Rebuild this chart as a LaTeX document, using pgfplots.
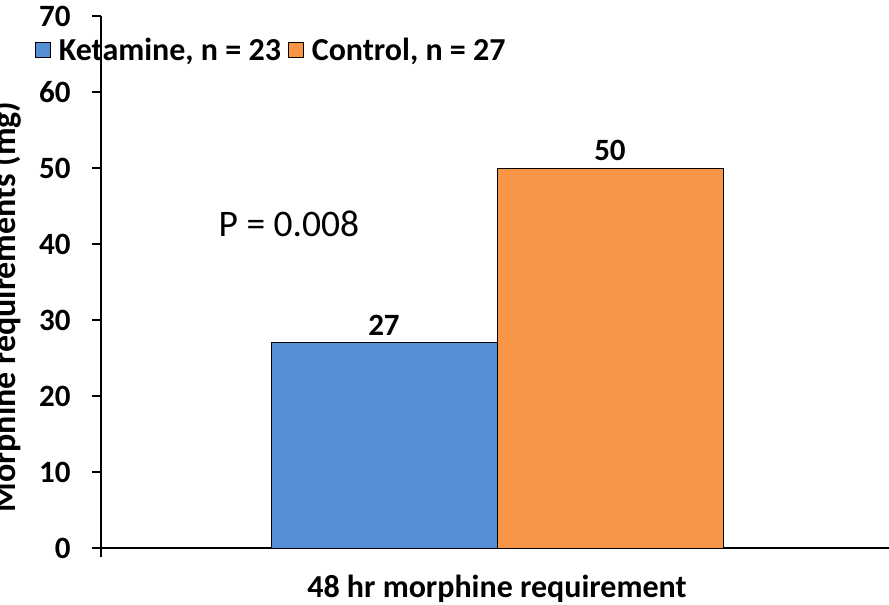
\documentclass[border=0pt]{standalone}
\usepackage{fontspec}
\setmainfont{Carlito}
\usepackage{pgfplots}
\pgfplotsset{compat=1.18}
\definecolor{barblue}{HTML}{558ED5}
\definecolor{barorange}{HTML}{F79646}
\begin{document}
\begin{tikzpicture}
\begin{axis}[
  scale only axis,
  width=788bp, height=532bp,
  ybar=0pt, bar width=226bp,
  xmin=-1.005, xmax=0.995,
  ymin=0, ymax=70,
  ytick={0,10,...,70},
  xtick=\empty,
  axis x line=bottom, axis y line=left,
  axis line style={-, line width=1.2bp, black},
  every tick/.style={black, line width=1.2bp},
  ytick align=outside, major tick length=9bp,
  /pgf/number format/assume math mode=true,
  yticklabel style={font=\fontsize{31bp}{36bp}\selectfont\bfseries, xshift=-18bp},
  ylabel={Morphine requirements (mg)},
  ylabel style={font=\fontsize{34bp}{40bp}\selectfont\bfseries, at={(rel axis cs:-0.1206,0.453)}, anchor=center},
  xlabel={48 hr morphine requirement},
  xlabel style={font=\fontsize{32bp}{38bp}\selectfont\bfseries, at={(rel axis cs:0.5025,-0.076)}, anchor=center},
  nodes near coords,
  every node near coord/.append style={font=\fontsize{31bp}{36bp}\selectfont\bfseries, /pgf/number format/assume math mode=true, yshift=4bp},
  legend columns=2,
  legend style={at={(rel axis cs:-0.084,0.936)}, anchor=west, draw=none, fill=none,
    font=\fontsize{32bp}{38bp}\selectfont\bfseries, inner sep=0pt,
    /tikz/every odd column/.append style={column sep=6bp},
    /tikz/every even column/.append style={column sep=5bp}},
  legend image code/.code={\draw[#1, line width=0.9bp] (0bp,-7.5bp) rectangle (15bp,7.5bp);},
  clip=false,
]
\addplot[fill=barblue, draw=black, line width=0.8bp] coordinates {(0,27)};
\addplot[fill=barorange, draw=black, line width=0.8bp] coordinates {(0,50)};
\legend{Ketamine{,} n = 23, Control{,} n = 27}
\node[font=\fontsize{37.5bp}{42bp}\selectfont] at (axis cs:-0.528,42.6) {P = 0.008};
\coordinate (o) at (rel axis cs:0,0);
\end{axis}
\draw[black, line width=1.2bp] (o) -- ++(0bp,-9bp);
\pgfresetboundingbox
\path (o) ++(-101bp,-57bp) rectangle ++(889bp,605bp);
\end{tikzpicture}
\end{document}
